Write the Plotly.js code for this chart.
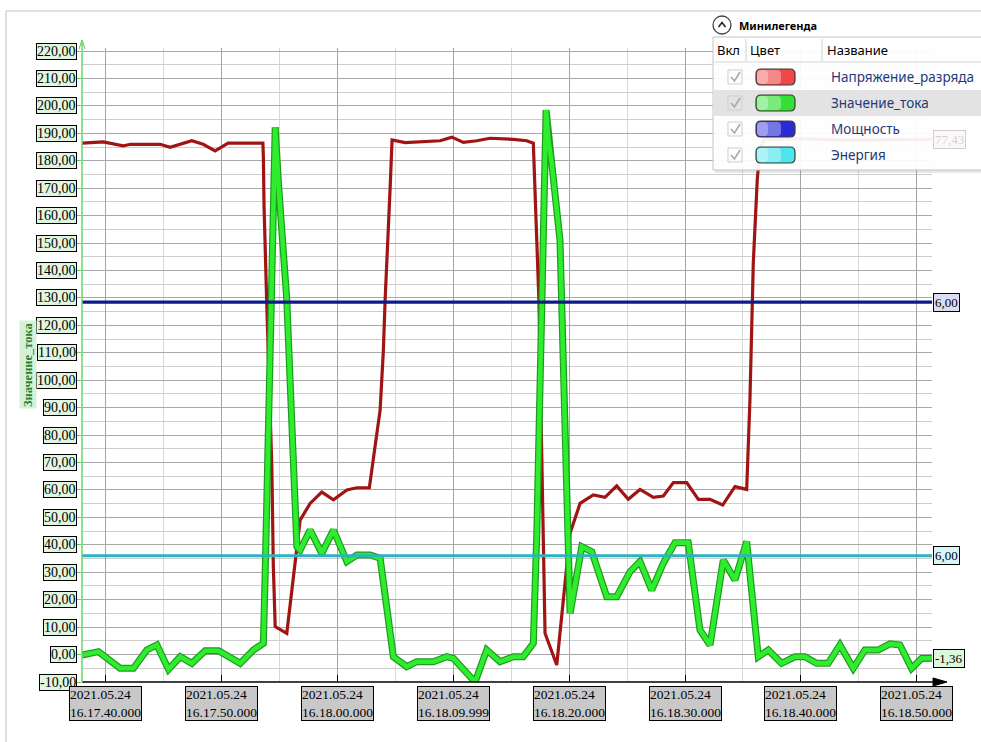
<!DOCTYPE html>
<html><head><meta charset="utf-8">
<script src="https://cdn.plot.ly/plotly-3.0.1.min.js"></script>
<style>html,body{margin:0;padding:0;background:#fff}#chart{width:981px;height:742px}</style>
</head><body><div id="chart"></div>
<script>
// ---- data (time in seconds after 2021.05.24 16:17:40) ----
const voltageT = [-2.0,-0.17,1.55,2.16,4.74,5.6,7.47,8.45,9.48,10.6,13.6,13.64,13.7,13.85,13.94,14.37,14.5,14.66,15.66,16.81,17.67,18.68,19.68,20.84,21.7,22.78,23.71,23.99,24.14,24.57,24.74,25.86,28.88,29.89,30.89,32.04,33.19,35.2,36.35,36.92,37.07,37.27,37.41,37.65,37.93,38.94,39.51,40.09,40.95,42.09,43.1,44.11,45.11,46.12,47.27,48.13,49.0,50.15,51.15,52.16,53.25,54.31,55.32,55.46,55.6,55.89,56.23,56.47,56.9,59.9,64.2,71.3];
const voltageV = [186.4,186.9,185.4,186,186,184.9,187.3,186,183.6,186.4,186.4,181.5,163.3,145,126.8,68.5,32,10.2,7.75,49,55.1,59.2,56.4,60,60.8,60.8,89.2,111,129.3,170,187.6,186.6,187.3,188.6,186.7,187.3,188.2,187.8,187.3,186.4,166.9,147.5,128,72.1,7.75,-3.8,19.9,44.2,55.1,58.2,57.3,61.5,56.6,60.2,57.3,57.8,62.7,62.7,56.6,56.6,54.5,61.2,60.2,77,92.8,142.8,173,185,188,188,187.5,187.8];
const currentT = [-2.0,-0.58,1.29,2.44,3.59,4.46,5.46,6.47,7.47,8.62,9.77,11.64,12.78,13.64,13.79,14.08,14.66,14.94,15.66,16.53,16.81,17.67,18.68,19.68,20.84,21.7,22.84,23.71,24.85,26.0,26.87,28.3,29.46,30.03,31.9,32.9,34.05,35.2,36.05,36.92,37.22,38.02,38.22,38.51,39.22,39.66,40.09,41.1,41.96,43.25,44.11,45.26,46.12,47.13,48.13,49.14,50.28,51.29,52.16,53.3,54.31,55.32,56.32,57.18,58.33,59.48,60.34,61.35,62.35,63.36,64.51,65.52,66.66,67.67,68.53,69.54,70.4,71.3];
const currentV = [-0.2,1.05,-5,-5,1.67,3.5,-5.4,-0.8,-3.2,1.4,1.4,-3.2,1.67,4.1,28.4,89.2,192.2,171.8,129.3,39.3,38.1,45.4,36.9,45.4,33.9,36.3,36.3,35.1,-0.8,-4.4,-2.6,-2.6,-0.8,-1.4,-10,1.67,-2.6,-0.8,-0.8,4.1,44.2,198.5,187.6,179,151,80.7,15,39.3,37.5,21.1,21.1,30.2,33.9,23.5,33.3,40.8,40.8,9,3.5,34.5,27.2,41.2,-0.8,1.67,-3.2,-0.8,-0.8,-3.2,-3.2,3.5,-5,1.67,1.67,3.9,3.5,-5,-1.4,-1.36];
const levelT = [-2.0, 71.3];
const powerV = [128.5, 128.5];
const energyV = [36, 36];

const xTickVals = [0,10,20,30,40,50,60,70];
const xTickText = ["2021.05.24<br>16.17.40.000","2021.05.24<br>16.17.50.000","2021.05.24<br>16.18.00.000","2021.05.24<br>16.18.09.999","2021.05.24<br>16.18.20.000","2021.05.24<br>16.18.30.000","2021.05.24<br>16.18.40.000","2021.05.24<br>16.18.50.000"];
const yTickVals = [-10,0,10,20,30,40,50,60,70,80,90,100,110,120,130,140,150,160,170,180,190,200,210,220];
const yTickText = ["-10,00","0,00","10,00","20,00","30,00","40,00","50,00","60,00","70,00","80,00","90,00","100,00","110,00","120,00","130,00","140,00","150,00","160,00","170,00","180,00","190,00","200,00","210,00","220,00"];
const rightLabels = ["77,43","6,00","6,00","-1,36"];
const legendNames = ["Напряжение_разряда","Значение_тока","Мощность","Энергия"];
const legendColors = ["#f04848","#33e033","#2b2bd6","#4de6ec"];
const axisTitle = "Значение_тока";
const legendTitle = "Минилегенда";
const legendHeaders = ["Вкл","Цвет","Название"];

// ---- layout helpers (pixel -> paper) ----
const W=981,H=742,ML=82,MR=49,MT=48,MB=60;
const PW=W-ML-MR, PH=H-MT-MB;
const px = x => (x-ML)/PW;
const py = y => (H-MB-y)/PH;
function rrPath(x0,y0,x1,y1,r){
  const p=(x,y)=>px(x).toFixed(5)+','+py(y).toFixed(5);
  return 'M'+p(x0+r,y0)+' L'+p(x1-r,y0)+' Q'+p(x1,y0)+' '+p(x1,y0+r)+' L'+p(x1,y1-r)+' Q'+p(x1,y1)+' '+p(x1-r,y1)+' L'+p(x0+r,y1)+' Q'+p(x0,y1)+' '+p(x0,y1-r)+' L'+p(x0,y0+r)+' Q'+p(x0,y0)+' '+p(x0+r,y0)+' Z';
}
function line(x0,y0,x1,y1,color,w){
  return {type:'line',xref:'paper',yref:'paper',x0:px(x0),y0:py(y0),x1:px(x1),y1:py(y1),line:{color:color,width:w},layer:'above'};
}
function rect(x0,y0,x1,y1,fill,lc,lw){
  return {type:'rect',xref:'paper',yref:'paper',x0:px(x0),y0:py(y0),x1:px(x1),y1:py(y1),fillcolor:fill,line:{color:lc,width:lw},layer:'above'};
}
function path(d,fill,lc,lw){
  return {type:'path',xref:'paper',yref:'paper',path:d,fillcolor:fill,line:{color:lc,width:lw},layer:'above'};
}
function pp(pts){return pts.map((q,i)=>(i?'L':'M')+px(q[0]).toFixed(5)+','+py(q[1]).toFixed(5)).join(' ');}

const serif = 'Liberation Serif, Times New Roman, serif';
const sans = 'Noto Sans, Open Sans, DejaVu Sans, sans-serif';

const traces = [
  {x:voltageT,y:voltageV,type:'scatter',mode:'lines',name:legendNames[0],line:{color:'#a01414',width:3.2}},
  {x:currentT,y:currentV,type:'scatter',mode:'lines',name:legendNames[1]+' outline',line:{color:'#1c9c1c',width:7},hoverinfo:'skip'},
  {x:currentT,y:currentV,type:'scatter',mode:'lines',name:legendNames[1],line:{color:'#2fec2f',width:4.6}},
  {x:levelT,y:powerV,type:'scatter',mode:'lines',name:legendNames[2],line:{color:'#0c1a8a',width:3.2}},
  {x:levelT,y:energyV,type:'scatter',mode:'lines',name:legendNames[3],line:{color:'#2cb2c0',width:3}}
];

const annotations = [];
yTickVals.forEach((v,i)=>annotations.push({xref:'paper',yref:'y',x:0,y:v,xanchor:'right',yanchor:'middle',xshift:-5,
  text:yTickText[i],showarrow:false,bgcolor:'#e1f6e1',bordercolor:'#000',borderwidth:1,borderpad:0,font:{family:serif,size:14,color:'#000'}}));
xTickVals.forEach((v,i)=>annotations.push({xref:'x',yref:'paper',x:v,y:0,xanchor:'center',yanchor:'top',yshift:-4,align:'left',
  text:xTickText[i],showarrow:false,bgcolor:'#c8c8c8',bordercolor:'#000',borderwidth:1,borderpad:0,font:{family:serif,size:13.5,color:'#000'}}));
const rightY=[voltageV[voltageV.length-1],powerV[1],energyV[1],currentV[currentV.length-1]];
const rightBg=['#f4dede','#dcdcf2','#d8f4f4','#dcf8dc'];
rightLabels.forEach((t,i)=>annotations.push({xref:'paper',yref:'y',x:1,y:rightY[i],xanchor:'left',yanchor:'middle',xshift:1,
  text:t,showarrow:false,bgcolor:rightBg[i],bordercolor:'#000',borderwidth:1,borderpad:1,opacity:i===0?0.18:1,font:{family:serif,size:13,color:'#000'}}));
annotations.push({xref:'paper',yref:'paper',x:px(28),y:py(365),xanchor:'center',yanchor:'middle',textangle:-90,text:'<b>'+axisTitle+'</b>',showarrow:false,
  bgcolor:'#d6f2d6',borderpad:1,font:{family:serif,size:12.5,color:'#2f7d2f'}});
// legend texts
annotations.push({xref:'paper',yref:'paper',x:px(737),y:py(25),xanchor:'left',yanchor:'middle',text:'<b>'+legendTitle+'</b>',showarrow:false,font:{family:sans,size:11,color:'#000'}});
[[715,legendHeaders[0]],[748,legendHeaders[1]],[825,legendHeaders[2]]].forEach(h=>annotations.push({xref:'paper',yref:'paper',x:px(h[0]),y:py(50),xanchor:'left',yanchor:'middle',text:h[1],showarrow:false,font:{family:sans,size:13,color:'#000'}}));
const rowY=[77,103,129,155];
legendNames.forEach((n,i)=>annotations.push({xref:'paper',yref:'paper',x:px(829),y:py(rowY[i]),xanchor:'left',yanchor:'middle',text:n,showarrow:false,font:{family:sans,size:13.5,color:'#1e3a78'}}));

const shapes = [];
// outer panel frame
shapes.push(rect(6,11,995,760,'rgba(0,0,0,0)','#b9c3cd',1));
// x axis line + arrow
shapes.push(line(82,682,940,682,'#000',1.5));
shapes.push(path(pp([[933,678],[947,682],[933,686]])+' Z','#000','#000',1));
// y axis arrow
shapes.push(path(pp([[79,49],[82,40],[85,49]]),'rgba(0,0,0,0)','#55d055',1));
shapes.push(line(82,682,82,42,'#66d866',1.5));
// legend panel
shapes.push(rect(715,39,988,173,'rgba(120,120,120,0.18)','rgba(0,0,0,0)',0));
shapes.push(rect(713,37,986,170,'rgba(255,255,255,0.93)','#c4c4c4',1));
shapes.push(rect(713,90,986,116,'rgba(226,226,226,0.95)','rgba(0,0,0,0)',0));
shapes.push(line(713,62,986,62,'#d6d6d6',1));
shapes.push(line(746,39,746,61,'#d0d0d0',1));
shapes.push(line(822,39,822,61,'#d0d0d0',1));
// collapse button
shapes.push({type:'circle',xref:'paper',yref:'paper',x0:px(713),y0:py(16),x1:px(731),y1:py(34),fillcolor:'#fff',line:{color:'#444',width:1.3},layer:'above'});
shapes.push(path(pp([[718.5,27],[722,22.5],[725.5,27]]),'rgba(0,0,0,0)','#222',1.6));
rowY.forEach((y,i)=>{
  shapes.push(rect(728,y-7,742,y+7,'rgba(255,255,255,0)','#cfcfcf',1));
  shapes.push(path(pp([[731,y],[734.5,y+4],[740,y-5]]),'rgba(0,0,0,0)','#a8a8a8',1.6));
  shapes.push(path(rrPath(756,y-8,795,y+8,5),legendColors[i],'#3a3a3a',1.2));
  shapes.push(path(rrPath(757,y-7,781,y+7,4),'rgba(255,255,255,0.35)','rgba(0,0,0,0)',0));
  shapes.push(path(rrPath(757,y-7,768,y+7,4),'rgba(255,255,255,0.3)','rgba(0,0,0,0)',0));
});

const layout = {
  width:W,height:H,margin:{l:ML,r:MR,t:MT,b:MB,pad:0},
  paper_bgcolor:'#fff',plot_bgcolor:'#fff',showlegend:false,
  xaxis:{type:'linear',range:[-2.0,71.3],tickmode:'array',tickvals:xTickVals,showticklabels:false,
    showgrid:true,gridcolor:'#a4a4a4',gridwidth:1,zeroline:false,showline:false,ticks:'inside',ticklen:7,tickcolor:'#000',
    minor:{dtick:5,tick0:0,showgrid:true,gridcolor:'#d8d8d8',gridwidth:1}},
  yaxis:{range:[-10,221.1],tickmode:'array',tickvals:yTickVals,showticklabels:false,
    showgrid:true,gridcolor:'#a8a8a8',gridwidth:1,zeroline:false,showline:false,ticks:'outside',ticklen:4,tickcolor:'#5fd35f',
    minor:{dtick:5,tick0:0,showgrid:true,gridcolor:'#cdcdcd',gridwidth:1}},
  annotations:annotations,shapes:shapes
};
Plotly.newPlot('chart',traces,layout,{staticPlot:true,displayModeBar:false});
</script></body></html>
